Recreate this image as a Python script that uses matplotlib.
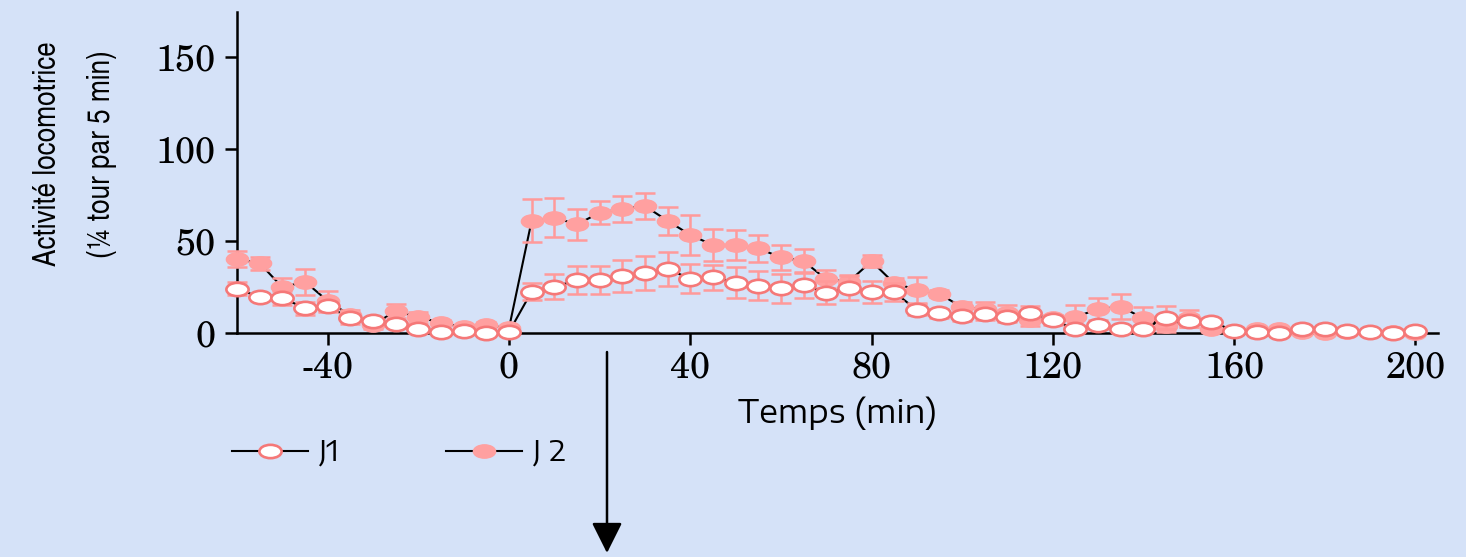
import numpy as np
import matplotlib
matplotlib.use("Agg")
import matplotlib.pyplot as plt
from matplotlib.path import Path
from matplotlib.transforms import Affine2D
from matplotlib.lines import Line2D
from matplotlib.patches import FancyArrowPatch

plt.rcParams["axes.unicode_minus"] = False

# Time (min) relative to the injection
temps = list(range(-60, 201, 5))

# Day 1: mean activity and SEM
j1_mean = [24, 19.5, 19, 13.5, 14.5, 8, 6.5, 5, 2, 0.3, 1.3, 0, 0.5,
           22.5, 25, 28.8, 29, 31, 32.5, 34.8, 29.5, 30.2, 27.4, 25.7, 24.3,
           26, 22, 24.3, 22.5, 22.2, 12.5, 10.8, 9, 10.2, 8.8, 11, 7,
           2.2, 4.1, 2, 2, 8.3, 6.5, 6, 1.3, 0.3, 0, 2.4, 2.4, 1, 0.3, 0, 1]
j1_sem = [3.6, 1.5, 3.6, 3.5, 3, 3, 1.5, 1.5, 1, 1, 1, 1, 1,
          4.5, 6.8, 7.7, 7.6, 8.6, 9.2, 9.1, 8, 7, 8.2, 8, 8,
          7, 6.3, 6.6, 6, 5, 3, 2.5, 2.5, 3, 3, 3.5, 2.5,
          1.5, 2, 1.5, 1.5, 6.3, 3, 2, 1, 1, 1, 1, 1, 1, 1, 1, 1]

# Day 2: mean activity and SEM
j2_mean = [40.2, 37.9, 24.8, 27.9, 17.4, 9.5, 4.3, 12, 8.5, 5.6, 3, 4.3, 2.5,
           61, 62.7, 59, 65.4, 67.4, 69, 61, 53.3, 47.8, 47.8, 46, 41.1,
           39.1, 29.2, 27.9, 39, 27, 23.5, 21.3, 13.9, 13, 11.1, 6.9, 8,
           8.7, 13, 14.3, 8, 3.7, 8, 2.4, 1, 1.9, 1.9, 0.5, 0, 0.5, 0.3, 0.8, 0]
j2_sem = [4.5, 3.5, 5, 7, 5.6, 3, 2, 4, 3, 1.5, 1.5, 1.5, 1,
          11.8, 10.6, 8.2, 6.4, 7, 6.9, 7.6, 11, 8.7, 8.4, 7.4, 6.6,
          6.5, 5, 3.6, 3.3, 3, 7, 2, 3, 3.9, 4, 3, 2,
          6.7, 6, 6.8, 6, 3, 4.6, 2, 1, 1, 1, 1, 1, 1, 1, 1, 1]

x_ticks = [-40, 0, 40, 80, 120, 160, 200]
y_ticks = [0, 50, 100, 150]

bg = "#d5e2f8"
pink_fill = "#ffa0a0"
pink_err = "#ff9a9a"
pink_edge = "#f57878"

serif = ["TeX Gyre Schola", "DejaVu Serif"]
wide_sans = ["Encode Sans Expanded", "DejaVu Sans"]
narrow_sans = ["TeX Gyre Heros Cn", "Liberation Sans Narrow", "Roboto Condensed",
               "DejaVu Sans"]

# Flattened ellipse used as the marker shape
circ = Path.unit_circle()
ellipse = Path(Affine2D().scale(1.0, 0.6).transform(circ.vertices), circ.codes)

fig = plt.figure(figsize=(14.66, 5.57), dpi=100, facecolor=bg)
ax = fig.add_axes([0.1617, 0.4022, 0.8192, 0.5763], facecolor=bg)

# Connecting lines
ax.plot(temps, j1_mean, color="black", lw=1.5, zorder=2, clip_on=False)
ax.plot(temps, j2_mean, color="black", lw=1.5, zorder=2, clip_on=False)

# Day 2: filled markers with error bars
ax.errorbar(temps, j2_mean, yerr=j2_sem, fmt="none", ecolor=pink_err,
            elinewidth=1.8, capsize=7.5, capthick=1.8, zorder=3, clip_on=False)
ax.plot(temps, j2_mean, ls="none", marker=ellipse, ms=16, mfc=pink_fill,
        mec=pink_fill, mew=1.0, zorder=3.5, clip_on=False)

# Day 1: open markers with error bars
ax.errorbar(temps, j1_mean, yerr=j1_sem, fmt="none", ecolor=pink_err,
            elinewidth=1.8, capsize=7.5, capthick=1.8, zorder=4, clip_on=False)
ax.plot(temps, j1_mean, ls="none", marker=ellipse, ms=16, mfc="white",
        mec=pink_edge, mew=1.9, zorder=4.5, clip_on=False)

ax.set_xlim(-60, 205)
ax.set_ylim(0, 174.5)
ax.set_xticks(x_ticks)
ax.set_yticks(y_ticks)

for side in ("top", "right"):
    ax.spines[side].set_visible(False)
for side in ("left", "bottom"):
    ax.spines[side].set_linewidth(1.8)
    ax.spines[side].set_color("black")

ax.tick_params(axis="both", direction="out", length=8.5, width=1.8,
               colors="black")
ax.tick_params(axis="y", pad=7)
ax.tick_params(axis="x", pad=4)
for lab in ax.get_xticklabels() + ax.get_yticklabels():
    lab.set_fontfamily(serif)
    lab.set_fontsize(26)

ax.set_xlabel("Temps (min)", fontfamily=wide_sans, fontsize=23, labelpad=8)
ax.set_ylabel("Activité locomotrice\n(¼ tour par 5 min)",
              fontfamily=narrow_sans, fontsize=23, linespacing=2.05)
ax.yaxis.set_label_coords(-0.1, 0.558)

# Legend
h1 = Line2D([], [], color="black", lw=1.5, marker=ellipse, ms=16,
            mfc="white", mec=pink_edge, mew=1.9)
h2 = Line2D([], [], color="black", lw=1.5, marker=ellipse, ms=16,
            mfc=pink_fill, mec=pink_fill, mew=1.0)
fig.legend([h1, h2], ["J1", "J 2"], loc="center left",
           bbox_to_anchor=(232 / 1466, 0.1885), ncol=2, frameon=False,
           borderpad=0, borderaxespad=0, handlelength=2.6,
           handletextpad=0.38, columnspacing=3.65,
           prop={"family": wide_sans, "size": 21})

# Downward arrow below the time axis
arrow = FancyArrowPatch((607 / 1466, 0.368), (607 / 1466, 0.0072),
                        transform=fig.transFigure, arrowstyle="-|>",
                        mutation_scale=47, lw=1.8, color="black",
                        shrinkA=0, shrinkB=0)
fig.patches.append(arrow)

fig.savefig("out.png", dpi=100, facecolor=bg)
